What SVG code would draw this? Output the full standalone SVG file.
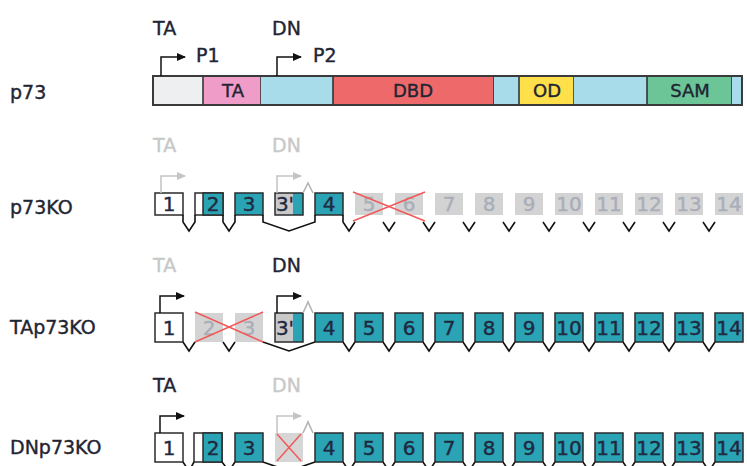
<svg xmlns="http://www.w3.org/2000/svg" width="747" height="466" viewBox="0 0 747 466">
<style>
text{font-family:"DejaVu Sans","Liberation Sans",sans-serif;stroke-width:0.4}
.lbl{font-size:19px;fill:#1f2533;stroke:#1f2533}
.top{font-size:19px;fill:#1f2533;stroke:#1f2533}
.gl{font-size:19px;fill:#c8c8c8;stroke:#c8c8c8}
.dom{font-size:18px;fill:#1f2533;stroke:#1f2533;text-anchor:middle}
.num{font-size:20px;fill:#1f2a40;stroke:#1f2a40;text-anchor:middle}
.ng{font-size:20px;fill:#a9aeb9;stroke:#a9aeb9;text-anchor:middle}
.ol{stroke:#2b2b2b;stroke-width:1.5}
.teal{fill:#2aa3b4}
.wh{fill:#ffffff}
.gr{fill:#d3d3d3}
.ln{fill:none;stroke:#111;stroke-width:1.6;stroke-linejoin:miter}
.lg{fill:none;stroke:#b4b4b4;stroke-width:1.6}
.x{stroke:#f05a5a;stroke-width:1.5}
.arB{fill:none;stroke:#111;stroke-width:1.5;marker-end:url(#hB)}
.arG{fill:none;stroke:#c4c4c4;stroke-width:1.5;marker-end:url(#hG)}
</style>
<defs>
<marker id="hB" markerUnits="userSpaceOnUse" markerWidth="9" markerHeight="8" refX="8" refY="4" orient="auto"><path d="M0,0 L9,4 L0,8 z" fill="#111"/></marker>
<marker id="hG" markerUnits="userSpaceOnUse" markerWidth="9" markerHeight="8" refX="8" refY="4" orient="auto"><path d="M0,0 L9,4 L0,8 z" fill="#c4c4c4"/></marker>
</defs>
<rect width="747" height="466" fill="#ffffff"/>

<!-- row labels -->
<text class="lbl" x="10" y="99">p73</text>
<text class="lbl" x="10" y="214">p73KO</text>
<text class="lbl" x="10" y="334">TAp73KO</text>
<text class="lbl" x="10" y="454">DNp73KO</text>

<!-- protein bar -->
<g id="protein">
<text class="top" x="153" y="35">TA</text>
<text class="top" x="272" y="35">DN</text>
<text class="top" x="196" y="62">P1</text>
<text class="top" x="313" y="62">P2</text>
<rect x="153" y="76" width="50" height="29" fill="#eeeff1"/>
<rect x="203" y="76" width="58" height="29" fill="#f09cc8" class="ol"/>
<rect x="261" y="76" width="72" height="29" fill="#a8dcea"/>
<rect x="333" y="76" width="161" height="29" fill="#ee6a6a" class="ol"/>
<rect x="494" y="76" width="25" height="29" fill="#a8dcea"/>
<rect x="519" y="76" width="55" height="29" fill="#ffe04a" class="ol"/>
<rect x="574" y="76" width="73" height="29" fill="#a8dcea"/>
<rect x="647" y="76" width="85" height="29" fill="#6cc597" class="ol"/>
<rect x="732" y="76" width="10" height="29" fill="#a8dcea"/>
<rect x="153" y="76" width="589" height="29" fill="none" stroke="#3a3a3a" stroke-width="2"/>
<text class="dom" x="233" y="97">TA</text>
<text class="dom" x="413" y="97">DBD</text>
<text class="dom" x="547" y="97">OD</text>
<text class="dom" x="690" y="97">SAM</text>
</g>

<!-- ROW 1: p73KO -->
<g id="r1-labels">
<text class="gl" x="153" y="152">TA</text>
<text class="gl" x="272" y="152">DN</text>
</g>
<g id="r1-e1"><rect x="155" y="193" width="28" height="22" class="wh ol"/><text class="num" x="169" y="211">1</text></g>
<g id="r1-e2"><rect x="195" y="193" width="28" height="22" class="wh ol"/><rect x="203" y="193" width="20" height="22" class="teal ol"/><text class="num" x="213" y="211">2</text></g>
<g id="r1-e3"><rect x="235" y="193" width="28" height="22" class="teal ol"/><text class="num" x="249" y="211">3</text></g>
<g id="r1-e3p"><rect x="275" y="193" width="18" height="22" fill="#c9c9c9"/><rect x="293" y="193" width="10" height="22" class="teal"/><rect x="275" y="193" width="28" height="22" fill="none" class="ol"/><text class="num" x="285" y="211">3'</text></g>
<g id="r1-e4"><rect x="315" y="193" width="28" height="22" class="teal ol"/><text class="num" x="329" y="211">4</text></g>
<g id="r1-e5"><rect x="355" y="193" width="28" height="22" class="gr"/><text class="ng" x="369" y="211">5</text></g>
<g id="r1-e6"><rect x="395" y="193" width="28" height="22" class="gr"/><text class="ng" x="409" y="211">6</text></g>
<g id="r1-e7"><rect x="435" y="193" width="28" height="22" class="gr"/><text class="ng" x="449" y="211">7</text></g>
<g id="r1-e8"><rect x="475" y="193" width="28" height="22" class="gr"/><text class="ng" x="489" y="211">8</text></g>
<g id="r1-e9"><rect x="515" y="193" width="28" height="22" class="gr"/><text class="ng" x="529" y="211">9</text></g>
<g id="r1-e10"><rect x="555" y="193" width="28" height="22" class="gr"/><text class="ng" x="569" y="211">10</text></g>
<g id="r1-e11"><rect x="595" y="193" width="28" height="22" class="gr"/><text class="ng" x="609" y="211">11</text></g>
<g id="r1-e12"><rect x="635" y="193" width="28" height="22" class="gr"/><text class="ng" x="649" y="211">12</text></g>
<g id="r1-e13"><rect x="675" y="193" width="28" height="22" class="gr"/><text class="ng" x="689" y="211">13</text></g>
<g id="r1-e14"><rect x="715" y="193" width="28" height="22" class="gr"/><text class="ng" x="729" y="211">14</text></g>
<g id="r1-cross"><line x1="353" y1="192" x2="425" y2="221" class="x"/><line x1="425" y1="192" x2="353" y2="221" class="x"/></g>

<!-- ROW 2: TAp73KO -->
<g id="r2-labels">
<text class="gl" x="153" y="272">TA</text>
<text class="top" x="272" y="272">DN</text>
</g>
<g id="r2-e1"><rect x="155" y="313" width="28" height="29" class="wh ol"/><text class="num" x="169" y="335">1</text></g>
<g id="r2-e2"><rect x="195" y="313" width="28" height="29" class="gr"/><text class="ng" x="209" y="335">2</text></g>
<g id="r2-e3"><rect x="235" y="313" width="28" height="29" class="gr"/><text class="ng" x="249" y="335">3</text></g>
<g id="r2-e3p"><rect x="275" y="313" width="18" height="29" fill="#c9c9c9"/><rect x="293" y="313" width="10" height="29" class="teal"/><rect x="275" y="313" width="28" height="29" fill="none" class="ol"/><text class="num" x="285" y="335">3'</text></g>
<g id="r2-e4"><rect x="315" y="313" width="28" height="29" class="teal ol"/><text class="num" x="329" y="335">4</text></g>
<g id="r2-e5"><rect x="355" y="313" width="28" height="29" class="teal ol"/><text class="num" x="369" y="335">5</text></g>
<g id="r2-e6"><rect x="395" y="313" width="28" height="29" class="teal ol"/><text class="num" x="409" y="335">6</text></g>
<g id="r2-e7"><rect x="435" y="313" width="28" height="29" class="teal ol"/><text class="num" x="449" y="335">7</text></g>
<g id="r2-e8"><rect x="475" y="313" width="28" height="29" class="teal ol"/><text class="num" x="489" y="335">8</text></g>
<g id="r2-e9"><rect x="515" y="313" width="28" height="29" class="teal ol"/><text class="num" x="529" y="335">9</text></g>
<g id="r2-e10"><rect x="555" y="313" width="28" height="29" class="teal ol"/><text class="num" x="569" y="335">10</text></g>
<g id="r2-e11"><rect x="595" y="313" width="28" height="29" class="teal ol"/><text class="num" x="609" y="335">11</text></g>
<g id="r2-e12"><rect x="635" y="313" width="28" height="29" class="teal ol"/><text class="num" x="649" y="335">12</text></g>
<g id="r2-e13"><rect x="675" y="313" width="28" height="29" class="teal ol"/><text class="num" x="689" y="335">13</text></g>
<g id="r2-e14"><rect x="715" y="313" width="28" height="29" class="teal ol"/><text class="num" x="729" y="335">14</text></g>
<g id="r2-cross"><line x1="195" y1="312" x2="263" y2="342" class="x"/><line x1="263" y1="312" x2="195" y2="342" class="x"/></g>

<!-- ROW 3: DNp73KO -->
<g id="r3-labels">
<text class="top" x="153" y="392">TA</text>
<text class="gl" x="272" y="392">DN</text>
</g>
<g id="r3-e1"><rect x="155" y="433" width="28" height="29" class="wh ol"/><text class="num" x="169" y="455">1</text></g>
<g id="r3-e2"><rect x="194" y="433" width="28" height="29" class="wh ol"/><rect x="203" y="433" width="19" height="29" class="teal ol"/><text class="num" x="213" y="455">2</text></g>
<g id="r3-e3"><rect x="235" y="433" width="28" height="29" class="teal ol"/><text class="num" x="249" y="455">3</text></g>
<g id="r3-e3p"><rect x="275" y="433" width="28" height="29" fill="#d6d6d6"/><line x1="277" y1="434" x2="301" y2="461" class="x"/><line x1="301" y1="434" x2="277" y2="461" class="x"/></g>
<g id="r3-e4"><rect x="315" y="433" width="28" height="29" class="teal ol"/><text class="num" x="329" y="455">4</text></g>
<g id="r3-e5"><rect x="355" y="433" width="28" height="29" class="teal ol"/><text class="num" x="369" y="455">5</text></g>
<g id="r3-e6"><rect x="395" y="433" width="28" height="29" class="teal ol"/><text class="num" x="409" y="455">6</text></g>
<g id="r3-e7"><rect x="435" y="433" width="28" height="29" class="teal ol"/><text class="num" x="449" y="455">7</text></g>
<g id="r3-e8"><rect x="475" y="433" width="28" height="29" class="teal ol"/><text class="num" x="489" y="455">8</text></g>
<g id="r3-e9"><rect x="515" y="433" width="28" height="29" class="teal ol"/><text class="num" x="529" y="455">9</text></g>
<g id="r3-e10"><rect x="555" y="433" width="28" height="29" class="teal ol"/><text class="num" x="569" y="455">10</text></g>
<g id="r3-e11"><rect x="595" y="433" width="28" height="29" class="teal ol"/><text class="num" x="609" y="455">11</text></g>
<g id="r3-e12"><rect x="635" y="433" width="28" height="29" class="teal ol"/><text class="num" x="649" y="455">12</text></g>
<g id="r3-e13"><rect x="675" y="433" width="28" height="29" class="teal ol"/><text class="num" x="689" y="455">13</text></g>
<g id="r3-e14"><rect x="715" y="433" width="28" height="29" class="teal ol"/><text class="num" x="729" y="455">14</text></g>

<!-- connectors -->
<g id="connectors">
<path class="arB" d="M161,76 V57 H185"/>
<path class="arB" d="M277,76 V57 H301"/>
<path class="arG" d="M161,193 V176 H185"/>
<path class="arG" d="M277,193 V176 H301"/>
<path class="arB" d="M160,313 V296 H184"/>
<path class="arB" d="M277,313 V296 H301"/>
<path class="arB" d="M160,433 V416 H184"/>
<path class="arG" d="M277,433 V416 H301"/>
<path class="lg" d="M303,193 L308,183 L313,193"/>
<path class="lg" d="M303,313 L308,302 L313,313"/>
<path class="lg" d="M303,433 L308,422 L313,433"/>
<path class="ln" d="M183,215 V222 L189,231 L195,222 V215"/>
<path class="ln" d="M223,215 V222 L229,231 L235,222 V215"/>
<path class="ln" d="M263,215 V222 L289,231 L315,222 V215"/>
<path class="ln" d="M343,215 V222 L349,231 L355,222"/>
<path class="ln" d="M383,222 L389,231 L395,222"/>
<path class="ln" d="M423,222 L429,231 L435,222"/>
<path class="ln" d="M463,222 L469,231 L475,222"/>
<path class="ln" d="M503,222 L509,231 L515,222"/>
<path class="ln" d="M543,222 L549,231 L555,222"/>
<path class="ln" d="M583,222 L589,231 L595,222"/>
<path class="ln" d="M623,222 L629,231 L635,222"/>
<path class="ln" d="M663,222 L669,231 L675,222"/>
<path class="ln" d="M703,222 L709,231 L715,222"/>
<path class="ln" d="M183,342 L189,351 L195,342"/>
<path class="ln" d="M223,342 L229,351 L235,342"/>
<path class="ln" d="M263,342 L289,351 L315,342"/>
<path class="ln" d="M343,342 L349,351 L355,342"/>
<path class="ln" d="M383,342 L389,351 L395,342"/>
<path class="ln" d="M423,342 L429,351 L435,342"/>
<path class="ln" d="M463,342 L469,351 L475,342"/>
<path class="ln" d="M503,342 L509,351 L515,342"/>
<path class="ln" d="M543,342 L549,351 L555,342"/>
<path class="ln" d="M583,342 L589,351 L595,342"/>
<path class="ln" d="M623,342 L629,351 L635,342"/>
<path class="ln" d="M663,342 L669,351 L675,342"/>
<path class="ln" d="M703,342 L709,351 L715,342"/>
<path class="ln" d="M183,462 L189,471 L194,462"/>
<path class="ln" d="M222,462 L229,471 L235,462"/>
<path class="ln" d="M263,462 L289,471 L315,462"/>
<path class="ln" d="M343,462 L349,471 L355,462"/>
<path class="ln" d="M383,462 L389,471 L395,462"/>
<path class="ln" d="M423,462 L429,471 L435,462"/>
<path class="ln" d="M463,462 L469,471 L475,462"/>
<path class="ln" d="M503,462 L509,471 L515,462"/>
<path class="ln" d="M543,462 L549,471 L555,462"/>
<path class="ln" d="M583,462 L589,471 L595,462"/>
<path class="ln" d="M623,462 L629,471 L635,462"/>
<path class="ln" d="M663,462 L669,471 L675,462"/>
<path class="ln" d="M703,462 L709,471 L715,462"/>
</g>
</svg>
